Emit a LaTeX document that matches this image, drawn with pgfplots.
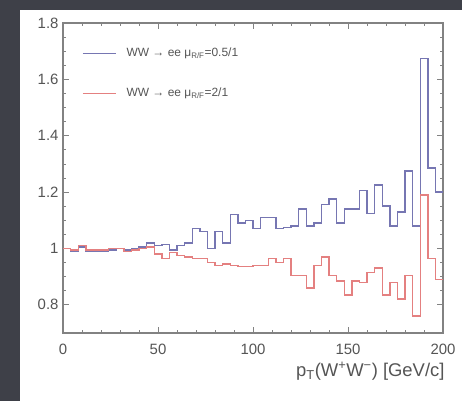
\documentclass[border=0pt]{standalone}
\usepackage{fontspec}
\setmainfont{Liberation Sans}
\usepackage{pgfplots}
\pgfplotsset{compat=1.18}
\usepackage{pgfplotstable}

\definecolor{bgdark}{RGB}{62,64,72}
\definecolor{lineblue}{RGB}{118,118,178}
\definecolor{linered}{RGB}{228,128,128}
\definecolor{framegray}{RGB}{130,130,130}
\definecolor{labelgray}{RGB}{85,85,85}

% ratio to nominal, 4 GeV bins (left edges; last row closes the final bin)
\pgfplotstableread{
x    y
0    1.000
4    0.990
8    1.005
12   0.990
16   0.990
20   0.990
24   0.995
28   1.000
32   0.995
36   1.000
40   1.005
44   1.020
48   1.010
52   1.015
56   0.995
60   1.010
64   1.020
68   1.070
72   1.060
76   1.000
80   1.060
84   1.020
88   1.120
92   1.090
96   1.100
100  1.070
104  1.110
108  1.110
112  1.070
116  1.075
120  1.080
124  1.140
128  1.080
132  1.090
136  1.155
140  1.175
144  1.090
148  1.140
152  1.140
156  1.205
160  1.125
164  1.225
168  1.150
172  1.080
176  1.130
180  1.275
184  1.080
188  1.675
192  1.285
196  1.200
200  1.200
}\halfscale

\pgfplotstableread{
x    y
0    1.000
4    0.995
8    1.010
12   0.995
16   0.995
20   0.995
24   1.000
28   1.000
32   0.990
36   0.995
40   1.000
44   1.005
48   0.980
52   0.965
56   0.985
60   0.975
64   0.970
68   0.965
72   0.965
76   0.950
80   0.940
84   0.945
88   0.940
92   0.935
96   0.935
100  0.940
104  0.940
108  0.965
112  0.950
116  0.965
120  0.905
124  0.905
128  0.860
132  0.940
136  0.970
140  0.905
144  0.885
148  0.835
152  0.885
156  0.880
160  0.915
164  0.930
168  0.835
172  0.880
176  0.820
180  0.905
184  0.760
188  1.190
192  0.965
196  0.890
200  0.890
}\doublescale

\begin{document}
\begin{tikzpicture}[x=1bp,y=1bp]
% slide background and white panel
\fill[bgdark] (0,0) rectangle (462,401);
\fill[white] (20,0) rectangle (462,391);
\begin{axis}[
  at={(63bp,68bp)}, anchor=south west,
  scale only axis, width=380bp, height=310bp,
  xmin=0, xmax=200, ymin=0.7, ymax=1.8,
  xtick={0,50,100,150,200},
  ytick={0.8,1,1.2,1.4,1.6,1.8},
  yticklabels={0.8,1,1.2,1.4,1.6,1.8},
  minor x tick num=4,
  minor y tick num=3,
  tick align=inside,
  xtick pos=both, ytick pos=both,
  major tick length=6bp, minor tick length=3bp,
  every tick/.style={framegray, line width=0.8bp},
  axis line style={framegray, line width=1.6bp},
  /pgf/number format/assume math mode=true,
  tick label style={font=\fontsize{15}{17}\selectfont, text=labelgray},
  xticklabel style={yshift=-8bp},
  yticklabel style={xshift=-1bp},
  xlabel={p\textsubscript{T}(W\textsuperscript{+}W\textsuperscript{−}) [GeV/c]},
  x label style={at={(axis description cs:1,0)}, anchor=north east,
    xshift=5bp, yshift=-26bp, font=\fontsize{18.5}{20}\selectfont, text=labelgray},
  legend style={at={(axis description cs:0,1)}, anchor=north west,
    xshift=19bp, yshift=-23bp,
    draw=none, fill=none, font=\fontsize{12}{14}\selectfont,
    text=labelgray, row sep=26bp, column sep=8bp, inner sep=0pt},
  legend cell align=left,
  legend image code/.code={\draw[#1] (0bp,0bp) -- (33bp,0bp);},
]
\addplot[const plot, lineblue, line width=1.4bp] table[x=x, y=y] {\halfscale};
\addlegendentry{WW → ee μ\textsubscript{R/F}=0.5/1}
\addplot[const plot, linered, line width=1.4bp] table[x=x, y=y] {\doublescale};
\addlegendentry{WW → ee μ\textsubscript{R/F}=2/1}
\end{axis}
\end{tikzpicture}
\end{document}
